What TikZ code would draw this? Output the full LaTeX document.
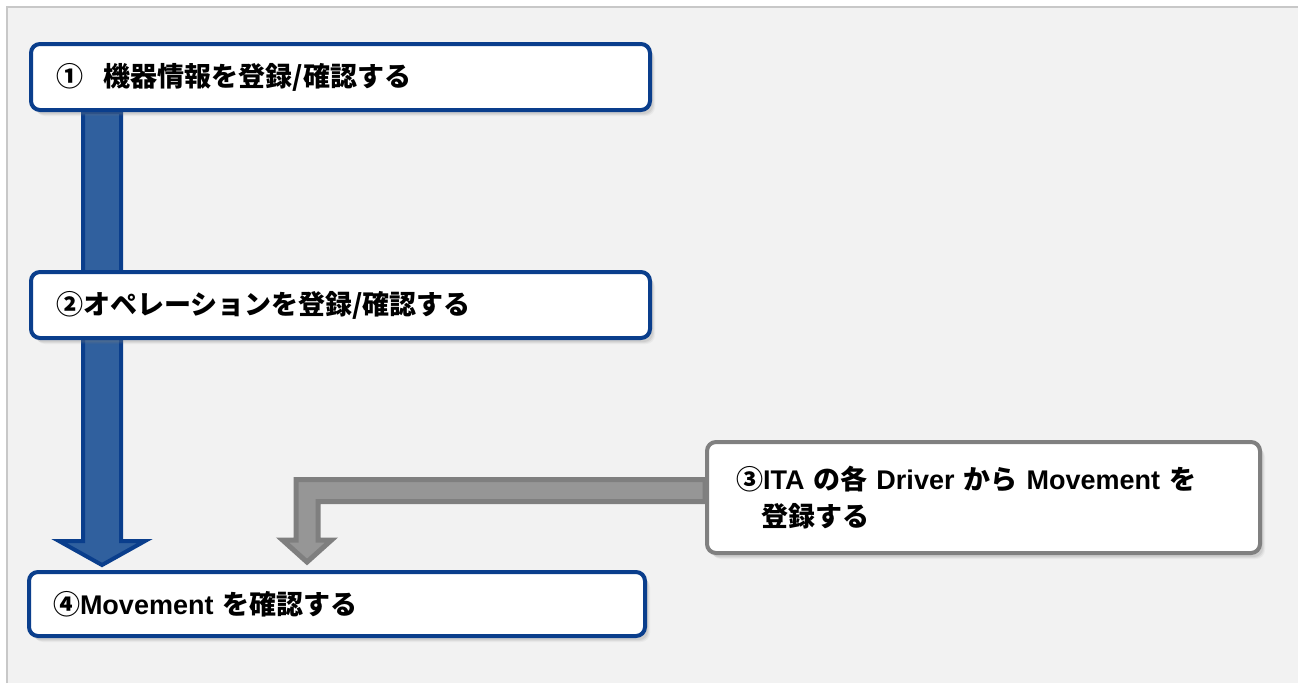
\documentclass[tikz,border=0pt]{standalone}
\usepackage{fontspec}
\setmainfont{Liberation Sans}
\newfontfamily\jp{Noto Sans CJK JP}
\usetikzlibrary{calc,shadows}
\pgfdeclarelayer{background}
\pgfdeclarelayer{panel}
\pgfsetlayers{panel,background,main}
\definecolor{boxblue}{RGB}{10,62,140}
\definecolor{boxgray}{RGB}{128,128,128}
\definecolor{flowblue}{RGB}{48,96,158}
\definecolor{flowgray}{RGB}{150,150,150}
\definecolor{flowgrayline}{RGB}{127,127,127}
\definecolor{panelgray}{RGB}{242,242,242}
\definecolor{panelline}{RGB}{200,200,200}
\tikzset{
  softshadow/.style={
    drop shadow={shadow xshift=5pt, shadow yshift=-6pt, opacity=.08},
    drop shadow={shadow xshift=4pt, shadow yshift=-5pt, opacity=.12},
    drop shadow={shadow xshift=3pt, shadow yshift=-4pt, opacity=.15}},
  stepbox/.style={draw=boxblue, line width=4pt, fill=white, rounded corners=9pt, softshadow,
    anchor=north west, align=left, inner ysep=0pt,
    font=\bfseries\fontsize{27}{37}\selectfont},
  graybox/.style={stepbox, draw=boxgray},
  bluearrow/.style={fill=flowblue, draw=boxblue, line width=4pt, line join=miter},
  grayarrow/.style={fill=flowgray, draw=flowgrayline, line width=5pt, line join=miter}
}
\begin{document}
\begin{tikzpicture}[x=1pt,y=-1pt]
  \useasboundingbox (0,0) rectangle (1298,683);

  % Drawing the panel
  \begin{pgfonlayer}{panel}
    \fill[panelgray] (8,7) rectangle (1298,683);
    \draw[panelline, line width=2pt] (7,683) -- (7,7) -- (1298,7);
  \end{pgfonlayer}

  % Step 1
  \node[stepbox, minimum width=619, minimum height=66, text width=569, inner xsep=25] (reg) at (29,42)
    {\jp ①\hspace{21pt}機器情報を登録/確認する};

  % Step 2
  \node[stepbox, minimum width=619, minimum height=66, text width=569, inner xsep=25] (ope) at (29,270)
    {\jp ②オペレーションを登録/確認する};

  % Step 3
  \node[graybox, minimum width=553, minimum height=111, text width=495, inner xsep=29] (mov) at (705,440)
    {{\jp ③}ITA {\jp の各} Driver {\jp から} Movement {\jp を}\\
     \hspace*{25pt}{\jp 登録する}};

  % Step 4
  \node[stepbox, minimum width=616, minimum height=64, text width=568, inner xsep=24] (chk) at (27,570)
    {{\jp ④}Movement {\jp を確認する}};

  \begin{pgfonlayer}{background}
    % Drawing arrow from step 1 to step 4
    \coordinate (bluetop) at ($(reg.south west)+(73,0)$);
    \coordinate (bluetip) at ($(bluetop |- chk.north)+(0,-5)$);
    \draw[bluearrow] ($(bluetop)+(-19,0)$) -- ($(bluetip)+(-19,-24)$) -- ++(-24,0)
      -- (bluetip) -- ($(bluetip)+(43,-24)$) -- ++(-24,0) -- ($(bluetop)+(19,0)$) -- cycle;

    % Drawing arrow from step 3 to step 4
    \coordinate (grayin) at ($(mov.west)+(0,-7)$);
    \coordinate (graybend) at (307,0 |- grayin);
    \coordinate (graytip) at ($(graybend |- chk.north)+(0,-8)$);
    \draw[grayarrow] ($(grayin)+(0,-11)$) -- ($(graybend)+(-11,-11)$)
      -- ($(graytip)+(-11,-22)$) -- ++(-13.5,0) -- (graytip) -- ($(graytip)+(24.5,-22)$)
      -- ++(-13.5,0) -- ($(graybend)+(11,11)$) -- ($(grayin)+(0,11)$) -- cycle;
  \end{pgfonlayer}
\end{tikzpicture}
\end{document}
